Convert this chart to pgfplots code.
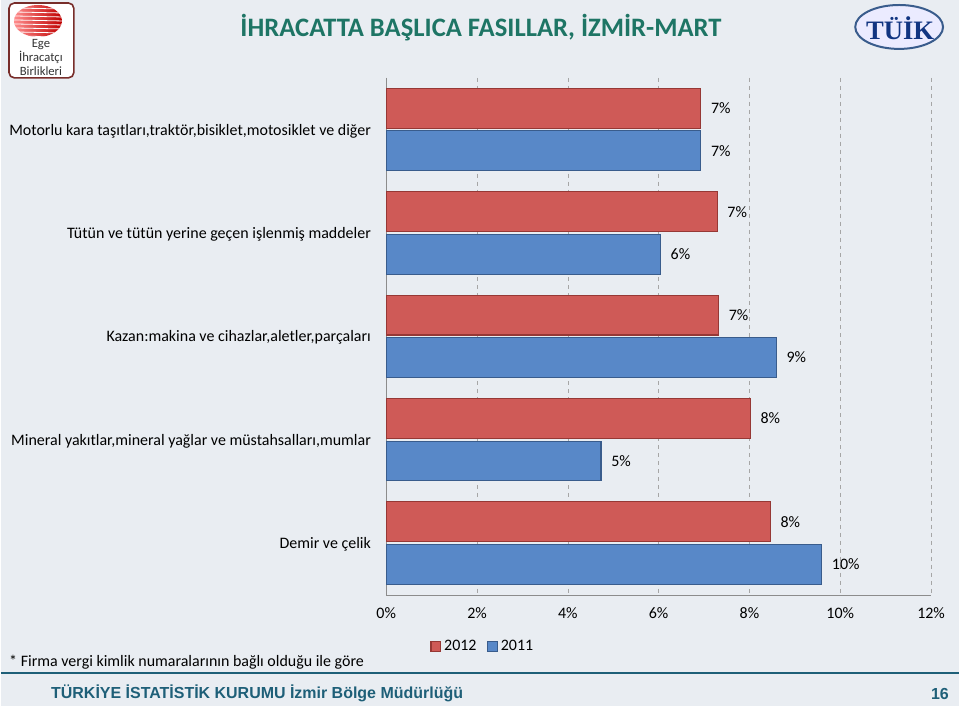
\documentclass[border=0pt]{standalone}
\usepackage{pgfplots}
\pgfplotsset{compat=1.18}
\usepackage{fontspec}
\setmainfont{Carlito}
\newfontfamily\arialfont{Liberation Sans}
\newfontfamily\seriffont{Liberation Serif}
\definecolor{bg}{HTML}{E9EDF2}
\definecolor{redbar}{HTML}{CF5A57}
\definecolor{rededge}{HTML}{963835}
\definecolor{bluebar}{HTML}{5888C8}
\definecolor{blueedge}{HTML}{395C8C}
\definecolor{titlecol}{HTML}{1E7565}
\definecolor{footcol}{HTML}{1E5F78}
\definecolor{gridcol}{HTML}{A6A6A6}
\definecolor{axiscol}{HTML}{8C8C8C}
\begin{document}
\begin{tikzpicture}
\begin{scope}[x=0.75pt,y=-0.75pt]
\fill[bg] (0,0) rectangle (960,707);
% left logo
\draw[rounded corners=4pt, fill=white, draw=rededge!80!black, line width=1.2pt] (8,3) rectangle (73,78);
\begin{scope}
\clip (37,21) ellipse [x radius=24, y radius=16];
\shade[left color=red!45!white, right color=red!75!black] (13,4) rectangle (61,38);
\foreach \yy in {8,12,...,36} {\draw[white, line width=0.6pt] (13,\yy) -- (61,\yy+1);}
\end{scope}
\node[font=\fontsize{9.5}{9.5}\selectfont, text=black!80] at (40,45) {Ege};
\node[font=\fontsize{9.5}{9.5}\selectfont, text=black!80] at (40,58) {İhracatçı};
\node[font=\fontsize{9.5}{9.5}\selectfont, text=black!80] at (40,71) {Birlikleri};
% right logo
\draw[fill=blue!8!white, draw=blueedge, line width=1.5pt] (900,27) ellipse [x radius=44, y radius=22];
\node[font=\seriffont\bfseries\fontsize{20}{20}\selectfont, text=footcol!70!blue!80!black] at (901,28) {TÜİK};
% title
\node[font=\bfseries\fontsize{20}{20}\selectfont, text=titlecol] at (481,28) {İHRACATTA BAŞLICA FASILLAR, İZMİR-MART};
% footnote
\node[anchor=west, font=\fontsize{12}{12}\selectfont, inner sep=0pt] at (8,664) {* Firma vergi kimlik numaralarının bağlı olduğu ile göre};
\draw[footcol, line width=1.5pt] (0,674) -- (960,674);
\node[anchor=west, inner sep=0pt, font=\arialfont\bfseries\fontsize{12}{12}\selectfont, text=footcol] at (50,695) {TÜRKİYE İSTATİSTİK KURUMU İzmir Bölge Müdürlüğü};
\node[anchor=east, inner sep=0pt, font=\arialfont\bfseries\fontsize{12}{12}\selectfont, text=footcol] at (950,695) {16};
\end{scope}
\begin{axis}[
  at={(289.5pt,-447pt)}, anchor=south west,
  width=409.5pt, height=388.5pt, scale only axis,
  xbar, bar width=30pt,
  xmin=0, xmax=12,
  ymin=-0.5, ymax=4.5, y dir=reverse,
  axis x line*=bottom, axis y line*=left,
  axis line style={axiscol, -},
  xtick={0,2,...,12},
  xticklabels={0\%,2\%,4\%,6\%,8\%,10\%,12\%},
  ytick={0,1,2,3,4},
  yticklabels={{Motorlu kara taşıtları,traktör,bisiklet,motosiklet ve diğer},
               {Tütün ve tütün yerine geçen işlenmiş maddeler},
               {Kazan:makina ve cihazlar,aletler,parçaları},
               {Mineral yakıtlar,mineral yağlar ve müstahsalları,mumlar},
               {Demir ve çelik}},
  major tick length=0pt,
  xmajorgrids, grid style={gridcol, dashed},
  ticklabel style={font=\fontsize{12}{12}\selectfont},
  xticklabel style={yshift=-6pt},
  yticklabel style={xshift=-8pt, yshift=-1pt},
  point meta=explicit symbolic,
  nodes near coords,
  nodes near coords style={anchor=west, font=\fontsize{12}{12}\selectfont, xshift=4pt},
  legend style={at={(0.178,-0.1)}, anchor=center, draw=none, fill=none,
    legend columns=2, font=\fontsize{12}{12}\selectfont,
    /tikz/every even column/.append style={column sep=6pt}},
  legend image code/.code={\draw[#1] (0pt,-3.75pt) rectangle (7.5pt,3.75pt);},
]
\addplot[fill=redbar, draw=rededge, line width=0.8pt, bar shift=16pt] coordinates {
  (6.93,0) [7\%]
  (7.29,1) [7\%]
  (7.32,2) [7\%]
  (8.02,3) [8\%]
  (8.46,4) [8\%]
};
\addplot[fill=bluebar, draw=blueedge, line width=0.8pt, bar shift=-16pt] coordinates {
  (6.93,0) [7\%]
  (6.04,1) [6\%]
  (8.59,2) [9\%]
  (4.73,3) [5\%]
  (9.59,4) [10\%]
};
\legend{2012,2011}
\end{axis}
\end{tikzpicture}
\end{document}
